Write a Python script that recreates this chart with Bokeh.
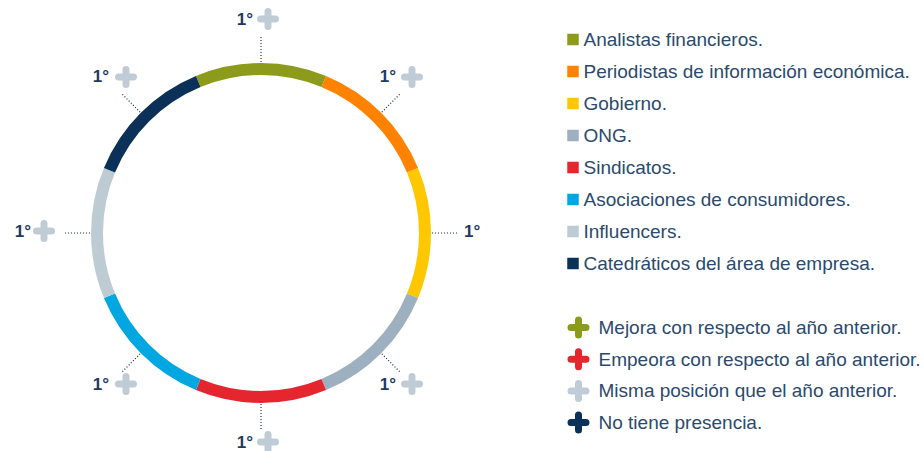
import math
from bokeh.plotting import figure
from bokeh.models import Range1d, ColumnDataSource
from bokeh.core.properties import value
from bokeh.embed import file_html
from bokeh.resources import INLINE

# --- data -----------------------------------------------------------------
categories = [
    "Analistas financieros.",
    "Periodistas de información económica.",
    "Gobierno.",
    "ONG.",
    "Sindicatos.",
    "Asociaciones de consumidores.",
    "Influencers.",
    "Catedráticos del área de empresa.",
]
shares = [1, 1, 1, 1, 1, 1, 1, 1]
ranks = ["1°", "1°", "1°", "1°", "1°", "1°", "1°", "1°"]
status = ["misma", "misma", None, "misma", "misma", "misma", "misma", "misma"]
colors = ["#8D9B1D", "#FF8300", "#FFC700", "#9DB0BF",
          "#E5262F", "#00A7E1", "#BDCBD3", "#0B3158"]

status_keys = ["mejora", "empeora", "misma", "ausente"]
status_labels = [
    "Mejora con respecto al año anterior.",
    "Empeora con respecto al año anterior.",
    "Misma posición que el año anterior.",
    "No tiene presencia.",
]
status_colors = ["#8D9B1D", "#E5262F", "#C0CCD5", "#0B3158"]

# --- layout ---------------------------------------------------------------
W, H = 924, 451
NAVY = "#1E3A5F"
TEXT = "#2B4A6D"
FONT = "Liberation Sans"

cx, cy = 260.5, H - 232.5
r_out, r_in = 170, 158
lead_in, lead_out = 171, 198

p = figure(width=W, height=H, output_backend="svg", toolbar_location=None,
           x_axis_type=None, y_axis_type=None, min_border=0,
           x_range=Range1d(0, W), y_range=Range1d(0, H))
p.outline_line_color = None
p.background_fill_color = "white"
p.grid.visible = False

# ring segments, clockwise from the top
total = sum(shares)
unit = 2 * math.pi / total
start0 = math.pi / 2 + shares[0] * unit / 2
starts, ends, mids = [], [], []
acc = 0
for s in shares:
    a0 = start0 - acc * unit
    a1 = a0 - s * unit
    starts.append(a0)
    ends.append(a1)
    mids.append((a0 + a1) / 2)
    acc += s

ring = ColumnDataSource(dict(start=starts, end=ends, color=colors))
p.annular_wedge(x=cx, y=cy, inner_radius=r_in, outer_radius=r_out,
                start_angle="start", end_angle="end", direction="clock",
                fill_color="color", line_color=None, source=ring)

# leader lines and rank labels
lx0, ly0, lx1, ly1 = [], [], [], []
tx, ty, tt, talign = [], [], [], []
px, py, pc = [], [], []
for a, rk, st in zip(mids, ranks, status):
    c, s = math.cos(a), math.sin(a)
    x0, y0 = cx + lead_in * c, cy + lead_in * s
    x1, y1 = cx + lead_out * c, cy + lead_out * s
    lx0.append(x0); ly0.append(y0); lx1.append(x1); ly1.append(y1)
    if abs(s) < 0.3:
        yy = y1 + 2
        if c < 0:
            tx.append(x1 - 32); talign.append("right")
            plus_x = x1 - 19
        else:
            tx.append(x1 + 5); talign.append("left")
            plus_x = x1 + 40
    else:
        yy = y1 + 16 if s > 0 else y1 - 11
        if c < -0.3:
            tx.append(x1 - 12); plus_x = x1 + 5
        elif c > 0.3:
            tx.append(x1 - 5); plus_x = x1 + 11
        else:
            tx.append(x1 - 8); plus_x = x1 + 7
        talign.append("right")
    ty.append(yy); tt.append(rk)
    if st is not None:
        px.append(plus_x); py.append(yy)
        pc.append(status_colors[status_keys.index(st)])

p.segment(x0=lx0, y0=ly0, x1=lx1, y1=ly1, line_color="#173457",
          line_width=1.2, line_dash="1 2")
p.text(x=tx, y=ty, text=tt, text_align=talign, text_baseline="middle",
       text_font=value(FONT), text_font_size="17px", text_font_style="bold",
       text_color=NAVY)
p.scatter(x=px, y=py, marker="cross", size=15, line_width=7,
          line_color=pc, line_cap="round")

# category legend
row0, step = 39, 32
leg_y = [H - (row0 + step * i) for i in range(len(categories))]
p.rect(x=[572.5] * len(categories), y=leg_y, width=11.5, height=11.5,
       fill_color=colors, line_color=None)
p.text(x=[583] * len(categories), y=leg_y, text=categories,
       text_baseline="middle", text_font=value(FONT),
       text_font_size="19px", text_color=TEXT)

# status legend
srow0, sstep = 327, 31.7
st_y = [H - (srow0 + sstep * i) for i in range(len(status_labels))]
p.scatter(x=[578] * len(status_labels), y=st_y, marker="cross", size=15,
          line_width=7, line_color=status_colors, line_cap="round")
p.text(x=[598] * len(status_labels), y=st_y, text=status_labels,
       text_baseline="middle", text_font=value(FONT),
       text_font_size="19px", text_color=TEXT)

open("out.html", "w").write(file_html(p, INLINE))
